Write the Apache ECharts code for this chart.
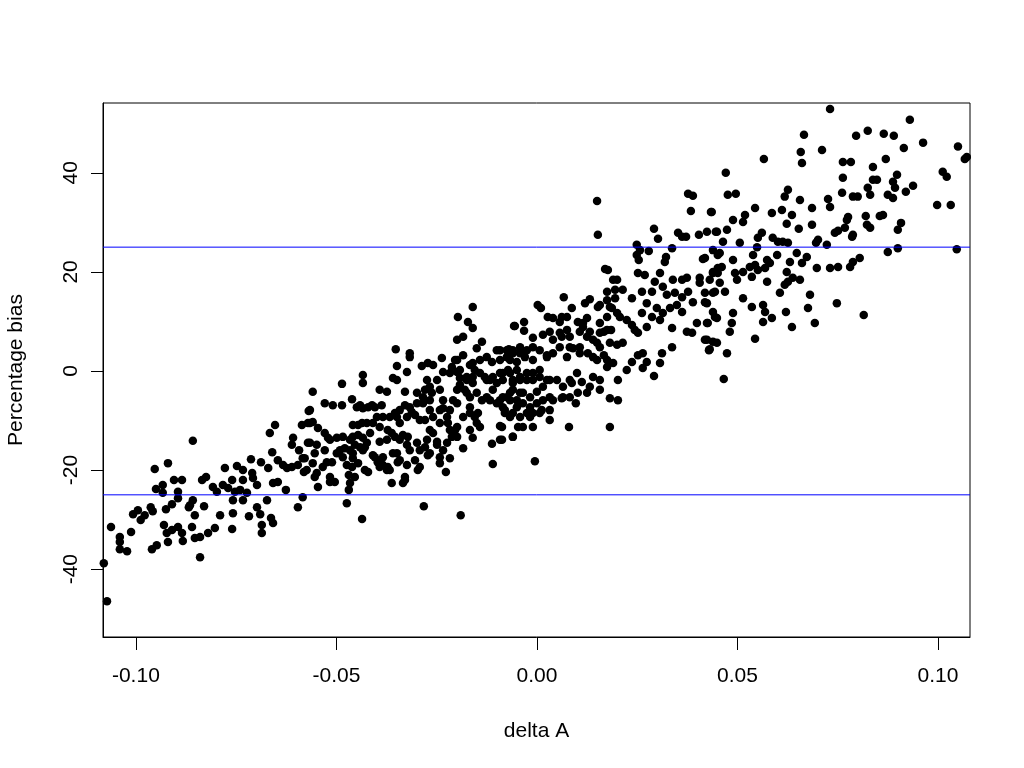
<!DOCTYPE html>
<html>
<head>
<meta charset="utf-8">
<script src="https://cdn.jsdelivr.net/npm/echarts@6/dist/echarts.min.js"></script>
<style>
  html, body { margin: 0; padding: 0; background: #fff; }
  #chart { width: 1024px; height: 768px; }
</style>
</head>
<body>
<div id="chart"></div>
<script>
// delta A / percentage bias pairs
var pointsLowLeft = [
  [-0.1072, -46.5], [-0.1080, -38.8], [-0.1062, -31.5], [-0.1040, -33.5], [-0.1040, -34.5],
  [-0.1040, -36.0], [-0.1022, -36.4], [-0.1012, -32.5], [-0.1007, -28.9], [-0.0995, -28.1],
  [-0.0988, -30.1], [-0.0978, -29.1], [-0.0963, -27.5], [-0.0958, -28.3], [-0.0960, -36.0],
  [-0.0948, -35.2], [-0.0953, -19.8], [-0.0950, -23.8], [-0.0933, -23.0], [-0.0933, -24.6],
  [-0.0920, -18.6], [-0.0925, -27.9], [-0.0910, -26.9], [-0.0895, -25.7], [-0.0895, -24.4],
  [-0.0905, -22.0], [-0.0885, -22.0], [-0.0930, -31.1], [-0.0923, -32.7], [-0.0920, -34.5],
  [-0.0910, -32.1], [-0.0895, -31.5], [-0.0885, -32.7], [-0.0883, -34.3], [-0.0858, -14.1],
  [-0.0865, -27.1], [-0.0858, -26.1], [-0.0868, -27.5], [-0.0853, -29.1], [-0.0830, -27.3],
  [-0.0860, -31.5], [-0.0853, -33.7], [-0.0840, -33.5], [-0.0820, -32.7], [-0.0803, -31.7],
  [-0.0840, -37.6], [-0.0835, -22.0], [-0.0825, -21.4], [-0.0808, -23.4], [-0.0798, -24.4],
  [-0.0790, -29.1], [-0.0778, -19.6], [-0.0783, -23.0], [-0.0770, -23.6], [-0.0760, -22.0],
  [-0.0753, -24.4], [-0.0748, -19.2], [-0.0740, -24.0], [-0.0733, -20.0], [-0.0723, -24.6],
  [-0.0733, -22.0], [-0.0710, -20.6], [-0.0708, -21.6], [-0.0698, -23.0], [-0.0713, -17.8],
  [-0.0758, -26.1], [-0.0758, -28.7], [-0.0760, -31.9], [-0.0733, -26.1], [-0.0718, -29.3],
  [-0.0698, -27.5], [-0.0690, -28.9], [-0.0686, -31.1], [-0.0686, -32.7], [-0.0673, -26.1],
  [-0.0688, -18.4], [-0.0670, -19.6], [-0.0660, -16.4], [-0.0666, -12.5], [-0.0653, -10.9],
  [-0.0658, -22.6], [-0.0646, -22.4], [-0.0646, -18.0], [-0.0633, -19.0], [-0.0626, -24.0],
  [-0.0623, -19.6], [-0.0663, -29.7], [-0.0658, -30.7], [-0.0596, -27.5], [-0.0584, -25.5],
  [-0.0559, -4.2], [-0.0569, -8.1], [-0.0586, -10.9], [-0.0571, -10.5], [-0.0608, -13.5],
  [-0.0611, -14.9], [-0.0593, -16.0], [-0.0584, -17.6], [-0.0566, -14.5], [-0.0611, -19.4],
  [-0.0596, -19.0], [-0.0581, -20.4], [-0.0549, -20.6], [-0.0546, -23.4]
];

var pointsMidLeft = [
  [-0.0474, -26.7], [-0.0436, -29.9], [-0.0282, -27.3], [-0.0190, -29.1], [-0.0469, -24.0],
  [-0.0466, -22.6], [-0.0469, -21.0], [-0.0461, -19.4], [-0.0474, -19.0], [-0.0454, -21.4],
  [-0.0516, -22.4], [-0.0504, -22.4], [-0.0516, -21.4], [-0.0554, -21.4], [-0.0559, -18.6],
  [-0.0574, -20.0], [-0.0579, -17.6], [-0.0554, -16.6], [-0.0571, -14.5], [-0.0549, -14.9],
  [-0.0534, -19.4], [-0.0524, -18.4], [-0.0511, -18.4], [-0.0529, -16.0], [-0.0521, -13.5],
  [-0.0529, -12.5], [-0.0499, -13.5], [-0.0566, -10.5], [-0.0559, -10.3], [-0.0546, -11.5],
  [-0.0566, -7.9], [-0.0529, -6.5], [-0.0509, -6.9], [-0.0486, -6.9], [-0.0486, -2.6],
  [-0.0461, -5.7], [-0.0449, -7.3], [-0.0441, -6.9], [-0.0434, -7.5], [-0.0421, -7.3],
  [-0.0404, -7.3], [-0.0387, -6.9], [-0.0434, -0.8], [-0.0434, -2.4], [-0.0392, -3.8],
  [-0.0374, -4.2], [-0.0446, -10.9], [-0.0436, -10.5], [-0.0424, -10.5], [-0.0409, -10.5],
  [-0.0459, -13.3], [-0.0446, -12.9], [-0.0434, -13.5], [-0.0424, -14.5], [-0.0399, -9.3],
  [-0.0384, -9.3], [-0.0392, -14.3], [-0.0491, -16.0], [-0.0479, -15.6], [-0.0466, -16.0],
  [-0.0454, -14.9], [-0.0441, -15.4], [-0.0429, -15.4], [-0.0484, -17.4], [-0.0459, -17.6],
  [-0.0446, -18.6], [-0.0429, -20.0], [-0.0421, -20.4], [-0.0404, -17.4], [-0.0397, -18.4],
  [-0.0384, -19.0], [-0.0374, -20.0], [-0.0367, -20.0], [-0.0362, -22.6], [-0.0334, -22.6],
  [-0.0329, -22.0], [-0.0324, -19.0], [-0.0347, -18.4], [-0.0349, -16.6], [-0.0372, -11.9],
  [-0.0362, -12.5], [-0.0354, -13.3], [-0.0342, -13.9], [-0.0334, -12.9], [-0.0322, -13.3],
  [-0.0367, -9.3], [-0.0354, -8.5], [-0.0342, -7.9], [-0.0329, -6.9], [-0.0317, -7.3],
  [-0.0299, -6.5], [-0.0304, -8.9], [-0.0292, -9.9], [-0.0359, -1.4], [-0.0349, -1.8],
  [-0.0349, 1.0], [-0.0352, 4.4], [-0.0324, -0.2], [-0.0317, 3.6], [-0.0317, 2.8],
  [-0.0329, -4.2], [-0.0287, 1.0], [-0.0272, 1.6], [-0.0259, 1.2], [-0.0249, -1.8],
  [-0.0274, -1.8], [-0.0279, -3.8], [-0.0262, -4.4], [-0.0242, -3.8], [-0.0299, -14.5],
  [-0.0292, -16.0], [-0.0304, -18.0], [-0.0297, -20.0], [-0.0279, -15.4], [-0.0272, -17.0],
  [-0.0267, -11.9], [-0.0259, -12.5], [-0.0249, -14.3], [-0.0234, -16.0], [-0.0224, -14.5],
  [-0.0212, -13.3], [-0.0242, -18.6], [-0.0227, -20.4], [-0.0217, -17.6], [-0.0237, 2.6],
  [-0.0212, 0.8], [-0.0204, 2.2], [-0.0199, -0.2], [-0.0192, -1.4], [-0.0199, -3.8],
  [-0.0209, -5.9], [-0.0199, -6.5], [-0.0234, -7.5], [-0.0224, -9.3], [-0.0242, -10.5],
  [-0.0222, -10.5], [-0.0204, -11.9], [-0.0197, 10.9], [-0.0160, 12.9], [-0.0172, 9.9],
  [-0.0160, 8.7], [-0.0199, 6.3], [-0.0184, 6.9], [-0.0137, 5.9], [-0.0150, 4.6],
  [-0.0184, 3.2], [-0.0184, -15.6], [-0.0160, -13.5], [-0.0112, -14.7], [-0.0110, -18.8],
  [-0.0092, -13.9], [-0.0092, -11.1], [-0.0060, -13.3], [-0.0057, 9.1], [-0.0070, 4.4],
  [-0.0192, 0.2], [-0.0175, -1.2], [-0.0160, 1.6], [-0.0155, 0.2], [-0.0142, 2.2],
  [-0.0125, 2.8], [-0.0112, 1.8], [-0.0100, 4.2], [-0.0092, 2.2], [-0.0075, 2.8],
  [-0.0060, 3.6], [-0.0130, -1.2], [-0.0117, -1.8], [-0.0100, -2.4], [-0.0085, -1.8],
  [-0.0067, -0.4], [-0.0050, 0.2], [-0.0180, -3.8], [-0.0167, -5.3], [-0.0150, -4.4],
  [-0.0137, -5.9], [-0.0125, -5.3], [-0.0110, -3.8], [-0.0092, -5.9], [-0.0075, -5.3],
  [-0.0060, -3.8], [-0.0042, -4.4], [-0.0167, -8.5], [-0.0155, -9.3], [-0.0142, -11.3],
  [-0.0080, -8.5], [-0.0067, -9.3], [-0.0047, -11.3], [-0.0199, -13.3]
];

var pointsMidRight = [
  [0.0150, 34.3], [0.0152, 27.5], [0.0377, 35.8], [0.0389, 35.4], [0.0384, 32.3],
  [0.0434, 32.1], [0.0292, 28.7], [0.0302, 26.7], [0.0352, 27.9], [0.0362, 27.1],
  [0.0372, 27.1], [0.0404, 27.5], [0.0424, 28.1], [0.0446, 28.1], [0.0249, 25.5],
  [0.0257, 24.4], [0.0249, 23.4], [0.0254, 22.4], [0.0279, 24.2], [0.0322, 23.0],
  [0.0319, 22.0], [0.0337, 24.8], [0.0439, 24.4], [0.0419, 22.8], [0.0451, 23.4],
  [0.0170, 20.6], [0.0177, 20.4], [0.0190, 18.4], [0.0200, 18.4], [0.0175, 16.0],
  [0.0195, 16.4], [0.0214, 16.4], [0.0157, 13.3], [0.0182, 12.9], [0.0195, 14.7],
  [0.0237, 14.7], [0.0252, 19.8], [0.0269, 19.4], [0.0294, 18.0], [0.0307, 19.8],
  [0.0339, 18.4], [0.0362, 18.4], [0.0374, 18.8], [0.0406, 18.8], [0.0439, 19.8],
  [0.0451, 20.8], [0.0262, 16.0], [0.0287, 16.0], [0.0314, 17.0], [0.0324, 15.4],
  [0.0344, 15.8], [0.0362, 14.9], [0.0377, 16.0], [0.0389, 13.9], [0.0419, 13.9],
  [0.0439, 15.8], [0.0274, 13.7], [0.0299, 12.7], [0.0314, 11.7], [0.0332, 12.7],
  [0.0349, 13.3], [0.0362, 11.9], [0.0262, 11.7], [0.0287, 10.9], [0.0307, 10.3],
  [0.0337, 8.7], [0.0274, 8.9], [0.0374, 7.9], [0.0387, 7.7], [0.0399, 9.7],
  [0.0424, 9.7], [0.0444, 10.9], [0.0424, 6.3], [0.0429, 4.2], [0.0449, 5.7],
  [0.0312, 3.6], [0.0307, 1.6], [0.0292, -1.0], [0.0337, 4.8], [0.0224, 0.2],
  [0.0237, 1.8], [0.0252, 3.2], [0.0264, 3.6], [0.0274, 1.8], [0.0264, 0.6],
  [0.0067, 14.9], [0.0002, 13.3], [0.0010, 12.7], [-0.0055, 9.1], [-0.0032, 9.9],
  [-0.0032, 8.1], [0.0027, 10.9], [0.0040, 10.7], [0.0062, 10.9], [0.0075, 10.9],
  [0.0087, 12.7], [0.0120, 13.7], [0.0132, 14.5], [0.0152, 12.9], [0.0115, 9.7],
  [0.0102, 9.9], [0.0157, 9.7], [0.0175, 10.9], [0.0187, 12.7], [0.0200, 11.7],
  [0.0207, 10.9], [0.0224, 10.3], [0.0237, 9.3], [0.0244, 8.3], [0.0252, 7.7],
  [0.0167, 7.9], [0.0185, 8.3], [-0.0010, 6.7], [0.0015, 7.3], [0.0032, 7.9],
  [0.0040, 6.3], [0.0062, 6.9], [0.0082, 6.9], [0.0107, 7.9], [0.0125, 6.9],
  [0.0140, 6.3], [0.0157, 4.8], [0.0182, 5.7], [0.0200, 5.3], [0.0214, 5.7],
  [0.0090, 4.6], [0.0075, 2.8], [0.0107, 3.6], [0.0127, 3.6], [0.0150, 2.2],
  [0.0167, 3.2], [0.0175, 0.8], [0.0190, 1.6], [0.0202, -1.8], [0.0157, -1.8],
  [0.0132, -3.2], [0.0112, -2.2], [0.0087, -2.4], [0.0102, -4.4], [0.0125, -4.4],
  [0.0157, -3.8], [0.0182, -5.5], [0.0202, -5.9], [0.0182, -11.3], [0.0080, -11.3],
  [0.0097, -6.5], [0.0062, -5.5], [-0.0092, 4.2], [-0.0075, 4.2], [-0.0067, 2.2],
  [-0.0050, 1.8], [-0.0042, 3.6], [-0.0030, 2.8], [-0.0010, 2.2], [0.0007, 4.2],
  [0.0025, 3.2], [0.0040, 3.6], [-0.0085, -0.4], [-0.0072, 0.2], [-0.0060, -1.8],
  [-0.0042, -1.8], [-0.0025, -0.4], [-0.0010, -1.8], [0.0007, -1.2], [0.0025, -1.8],
  [0.0050, -1.8], [-0.0085, -5.3], [-0.0067, -4.4], [-0.0050, -5.9], [-0.0035, -4.4],
  [-0.0017, -5.3], [0.0000, -4.2], [0.0015, -3.2], [0.0032, -5.3], [-0.0080, -7.9],
  [-0.0060, -8.5], [-0.0042, -9.3], [-0.0025, -8.5], [-0.0010, -8.5], [0.0012, -7.9],
  [0.0032, -7.9], [-0.0035, -11.3], [-0.0010, -11.3], [-0.0087, -11.3], [-0.0087, -13.9],
  [-0.0060, -13.3], [-0.0005, -18.2], [0.0032, -9.9]
];

var pointsUpRight = [
  [0.0731, 52.9], [0.0930, 50.7], [0.0666, 47.7], [0.0658, 44.2], [0.0661, 42.0],
  [0.0711, 44.6], [0.0566, 42.8], [0.0471, 40.0], [0.0476, 35.6], [0.0496, 35.8],
  [0.0436, 32.1], [0.0796, 47.5], [0.0825, 48.5], [0.0865, 47.9], [0.0890, 47.5],
  [0.0915, 45.0], [0.0963, 46.1], [0.0870, 42.8], [0.0763, 42.2], [0.0783, 42.2],
  [0.0763, 39.0], [0.0838, 41.2], [0.0838, 38.6], [0.0848, 38.6], [0.0825, 37.0],
  [0.0831, 35.6], [0.0888, 38.2], [0.0898, 39.6], [0.0893, 37.0], [0.0875, 35.6],
  [0.0888, 34.9], [0.0920, 36.2], [0.0938, 37.4], [0.1050, 45.3], [0.1067, 42.8],
  [0.1072, 43.2], [0.1012, 40.2], [0.1022, 39.2], [0.0998, 33.5], [0.1032, 33.5],
  [0.1047, 24.6], [0.0761, 36.0], [0.0788, 35.2], [0.0800, 35.2], [0.0726, 34.7],
  [0.0731, 33.1], [0.0776, 31.1], [0.0773, 30.5], [0.0820, 31.3], [0.0823, 29.5],
  [0.0831, 28.9], [0.0855, 31.3], [0.0863, 31.5], [0.0908, 29.9], [0.0900, 28.5],
  [0.0743, 27.9], [0.0751, 28.3], [0.0768, 28.9], [0.0786, 27.1], [0.0788, 27.5],
  [0.0701, 26.5], [0.0723, 25.5], [0.0696, 25.9], [0.0686, 29.5], [0.0686, 32.9],
  [0.0656, 34.5], [0.0636, 31.5], [0.0653, 28.7], [0.0618, 35.2], [0.0626, 36.6],
  [0.0586, 31.9], [0.0611, 32.5], [0.0623, 29.7], [0.0875, 24.0], [0.0900, 24.8],
  [0.0805, 22.8], [0.0788, 22.0], [0.0781, 21.0], [0.0751, 21.0], [0.0731, 20.8],
  [0.0698, 20.8], [0.0673, 23.0], [0.0661, 21.8], [0.0631, 22.0], [0.0648, 23.8],
  [0.0626, 25.9], [0.0613, 26.1], [0.0601, 26.1], [0.0588, 26.9], [0.0561, 27.9],
  [0.0551, 26.9], [0.0539, 23.4], [0.0549, 25.0], [0.0574, 22.4], [0.0599, 23.4],
  [0.0519, 31.5], [0.0514, 30.1], [0.0544, 32.9], [0.0489, 30.5], [0.0474, 28.5],
  [0.0449, 28.1], [0.0464, 26.1], [0.0506, 25.9], [0.0489, 22.4], [0.0456, 23.8],
  [0.0414, 22.6], [0.0514, 20.0], [0.0531, 21.0], [0.0544, 21.4], [0.0551, 20.4],
  [0.0569, 20.8], [0.0581, 21.8], [0.0623, 20.0], [0.0626, 18.0], [0.0638, 18.8],
  [0.0656, 18.4], [0.0618, 17.4], [0.0606, 15.8], [0.0574, 18.0], [0.0536, 19.0],
  [0.0494, 19.8], [0.0499, 18.4], [0.0451, 19.8], [0.0439, 20.0], [0.0461, 21.0],
  [0.0431, 18.4], [0.0456, 17.8], [0.0406, 17.8], [0.0419, 15.8], [0.0444, 16.0],
  [0.0469, 16.0], [0.0514, 14.7], [0.0536, 12.9], [0.0564, 13.3], [0.0569, 11.9],
  [0.0586, 10.7], [0.0564, 9.9], [0.0621, 11.9], [0.0636, 8.9], [0.0693, 9.7],
  [0.0676, 12.7], [0.0681, 15.4], [0.0748, 13.7], [0.0815, 11.3], [0.0544, 6.5],
  [0.0489, 11.7], [0.0486, 9.7], [0.0481, 7.9], [0.0449, 10.7], [0.0439, 11.9],
  [0.0426, 9.7], [0.0419, 6.3], [0.0439, 5.9], [0.0474, 3.6], [0.0466, -1.6],
  [0.0431, 4.4], [0.0424, 13.7]
];

// extra points from the densest part of the cloud
var pointsDense = [
  [-0.0234, -0.2], [-0.0217, -0.4], [-0.0199, 2.2], [-0.0167, 1.2], [-0.0267, -3.2],
  [-0.0299, -4.4], [-0.0284, -5.3], [-0.0267, -5.9], [-0.0234, -5.9], [-0.0192, -2.8],
  [-0.0175, -4.4], [-0.0160, -2.4], [-0.0167, -7.3], [-0.0217, -7.9], [-0.0411, -6.9],
  [-0.0459, -10.9], [-0.0392, -11.3], [-0.0349, -9.3], [-0.0342, -10.5], [-0.0324, -9.3],
  [-0.0312, -8.3], [-0.0284, -6.5], [-0.0279, -9.9], [-0.0267, -7.9], [-0.0259, -9.3],
  [-0.0242, -7.9], [-0.0199, -11.3], [-0.0184, -9.3], [-0.0167, -11.9], [-0.0150, -10.5],
  [-0.0147, -8.5], [-0.0516, -13.9], [-0.0484, -13.3], [-0.0466, -13.9], [-0.0416, -12.5],
  [-0.0374, -13.9], [-0.0324, -14.9], [-0.0274, -13.9], [-0.0249, -14.9], [-0.0217, -11.9],
  [-0.0499, -16.6], [-0.0459, -16.6], [-0.0434, -16.0], [-0.0409, -17.0], [-0.0384, -17.4],
  [-0.0359, -16.6], [-0.0342, -18.0], [-0.0317, -16.0], [-0.0267, -16.6], [-0.0242, -17.4],
  [-0.0392, -19.4], [-0.0372, -19.4], [-0.0292, -19.4], [-0.0329, -21.4], [0.0057, 9.9],
  [0.0125, 10.7], [0.0175, 14.3], [0.0057, 7.7], [0.0075, 8.3], [0.0115, 8.9],
  [0.0132, 7.9], [0.0157, 7.7], [0.0175, 8.3], [0.0150, 5.7], [0.0140, 2.8],
  [0.0175, 2.2], [0.0107, 4.8], [0.0082, 4.8], [0.0057, 4.8], [0.0025, 2.8],
  [-0.0010, 4.8], [-0.0025, 4.2], [-0.0042, 4.8], [-0.0060, 4.2], [-0.0175, -1.8],
  [-0.0160, -1.2], [-0.0142, -0.4], [-0.0125, -1.8], [-0.0110, -1.2], [-0.0092, -0.4],
  [-0.0060, -2.4], [-0.0042, -1.2], [-0.0025, -1.8], [-0.0010, -0.4], [0.0007, 0.2],
  [0.0032, -1.8], [0.0065, -3.2], [0.0082, -1.8], [0.0100, -0.4], [0.0140, -1.2],
  [0.0082, -5.3], [0.0065, -5.3], [0.0040, -5.9], [0.0015, -5.9], [0.0000, -6.5],
  [-0.0017, -7.3], [-0.0035, -6.5], [-0.0050, -7.3], [-0.0067, -5.9], [-0.0085, -7.3],
  [-0.0100, -6.5], [-0.0117, -5.9], [-0.0017, -9.3], [0.0007, -8.5]
];

var refLines = [25, -25];
var xTicks = [-0.10, -0.05, 0.00, 0.05, 0.10];
var yTicks = [-40, -20, 0, 20, 40];
var xRange = [-0.1082, 0.108];
var yRange = [-53.7, 54.1];

var allPoints = pointsLowLeft.concat(pointsMidLeft, pointsMidRight, pointsUpRight, pointsDense);

var chart = echarts.init(document.getElementById('chart'));

var series = [{
    type: 'scatter',
    data: allPoints,
    symbol: 'circle',
    symbolSize: 8.5,
    z: 2,
    itemStyle: { color: '#000000', opacity: 1 }
}];

// horizontal reference lines (abline h = +/-25), across the whole plot
refLines.forEach(function (v) {
    series.push({
        type: 'line',
        data: [[xRange[0], v], [xRange[1], v]],
        symbol: 'none',
        silent: true,
        z: 3,
        lineStyle: { color: '#0000ff', width: 1, type: 'solid' }
    });
});

var option = {
    animation: false,
    backgroundColor: '#ffffff',
    textStyle: {
        fontFamily: 'Liberation Sans, Arial, sans-serif'
    },
    grid: {
        left: 103,
        right: 54,
        top: 103,
        bottom: 131,
        outerBoundsMode: 'none',
        containLabel: false,
        show: true,
        borderColor: '#000000',
        borderWidth: 1
    },
    xAxis: {
        type: 'value',
        min: xRange[0],
        max: xRange[1],
        name: 'delta A',
        nameLocation: 'middle',
        nameGap: 84,
        nameTextStyle: { color: '#000', fontSize: 21 },
        axisLine: { show: true, onZero: false, lineStyle: { color: '#000' } },
        axisTick: {
            show: true,
            inside: false,
            length: 13,
            customValues: xTicks,
            lineStyle: { color: '#000' }
        },
        axisLabel: {
            color: '#000',
            fontSize: 21,
            margin: 29,
            customValues: xTicks,
            formatter: function (v) { return v.toFixed(2); }
        },
        splitLine: { show: false }
    },
    yAxis: {
        type: 'value',
        min: yRange[0],
        max: yRange[1],
        name: 'Percentage bias',
        nameLocation: 'middle',
        nameRotate: 90,
        nameGap: 76,
        nameTextStyle: { color: '#000', fontSize: 21 },
        axisLine: { show: true, onZero: false, lineStyle: { color: '#000' } },
        axisTick: {
            show: true,
            inside: false,
            length: 12,
            customValues: yTicks,
            lineStyle: { color: '#000' }
        },
        axisLabel: {
            color: '#000',
            fontSize: 21,
            margin: 21,
            rotate: 90,
            customValues: yTicks
        },
        splitLine: { show: false }
    },
    series: series
};

chart.setOption(option);
</script>
</body>
</html>
